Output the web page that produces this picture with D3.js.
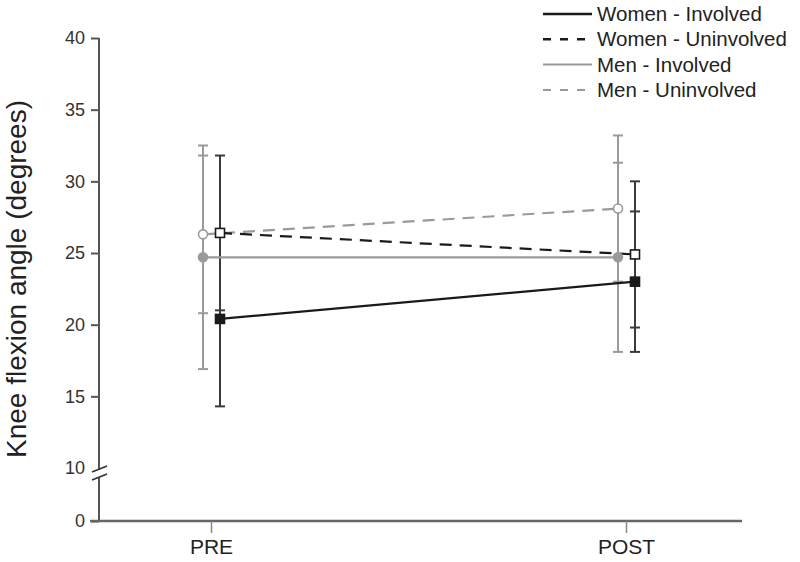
<!DOCTYPE html>
<html>
<head>
<meta charset="utf-8">
<script src="https://cdn.jsdelivr.net/npm/d3@7"></script>
<style>
  body { margin: 0; background: #fff; }
  svg { font-family: "Liberation Sans", Arial, sans-serif; }
</style>
</head>
<body>
<div id="chart"></div>
<script>
// Data
const times = ["PRE", "POST"];
const seriesNames = ["Men - Uninvolved", "Men - Involved", "Women - Uninvolved", "Women - Involved"];
const means = {
  "Women - Involved":   [20.4, 23.0],
  "Women - Uninvolved": [26.4, 24.9],
  "Men - Involved":     [24.7, 24.7],
  "Men - Uninvolved":   [26.3, 28.1]
};
const sds = {
  "Women - Involved":   [6.1, 4.9],
  "Women - Uninvolved": [5.4, 5.1],
  "Men - Involved":     [7.8, 6.6],
  "Men - Uninvolved":   [5.5, 5.1]
};
const yTicks = [0, 10, 15, 20, 25, 30, 35, 40];
const legendOrder = ["Women - Involved", "Women - Uninvolved", "Men - Involved", "Men - Uninvolved"];

// styles per series
const style = {
  "Women - Involved":   { color: "#1a1a1a", bar: "#3a3a3a", dash: null,  shape: "square", filled: true,  off: 9 },
  "Women - Uninvolved": { color: "#1a1a1a", bar: "#3a3a3a", dash: "12,8", shape: "square", filled: false, off: 9 },
  "Men - Involved":     { color: "#9a9a9a", bar: "#9a9a9a", dash: null,  shape: "circle", filled: true,  off: -8 },
  "Men - Uninvolved":   { color: "#9a9a9a", bar: "#9a9a9a", dash: "12,8", shape: "circle", filled: false, off: -8 }
};

const width = 800, height = 562;
const svg = d3.select("#chart").append("svg")
  .attr("width", width).attr("height", height);

// Scales (broken axis 0 -> 10)
const y = d3.scaleLinear().domain([0, 10, 40]).range([521, 468, 38]);
const x = d3.scalePoint().domain(times).range([211, 626]);

// Y axis
const yAxis = svg.append("g").attr("transform", "translate(99,0)")
  .call(d3.axisLeft(y).tickValues(yTicks).tickSize(8).tickPadding(6));
yAxis.select(".domain").remove();
yAxis.selectAll(".tick line").attr("stroke", "#555").attr("stroke-width", 2);
yAxis.selectAll(".tick text").attr("fill", "#333").style("font-size", "18px");
yAxis.selectAll(".tick").filter(d => d === 10).select("line").remove();

// axis line with break
svg.append("line").attr("x1", 99).attr("x2", 99).attr("y1", 38).attr("y2", 470)
  .attr("stroke", "#555").attr("stroke-width", 2);
svg.append("line").attr("x1", 99).attr("x2", 99).attr("y1", 477).attr("y2", 522)
  .attr("stroke", "#555").attr("stroke-width", 2);
[[472, 466], [480, 474]].forEach(([a, b]) => {
  svg.append("line").attr("x1", 92).attr("y1", a).attr("x2", 107).attr("y2", b)
    .attr("stroke", "#333").attr("stroke-width", 1.8);
});

// X axis
svg.append("line").attr("x1", 90).attr("x2", 742).attr("y1", y(0)).attr("y2", y(0))
  .attr("stroke", "#666").attr("stroke-width", 2.5);
const xAxis = svg.append("g").attr("transform", `translate(0,${y(0)})`)
  .call(d3.axisBottom(x).tickSize(12).tickPadding(6));
xAxis.select(".domain").remove();
xAxis.selectAll(".tick line").attr("stroke", "#888").attr("stroke-width", 1.5);
xAxis.selectAll(".tick text").attr("fill", "#222").style("font-size", "21px");

// Y title
svg.append("text")
  .attr("transform", "translate(26,279) rotate(-90)")
  .attr("text-anchor", "middle")
  .attr("fill", "#222")
  .style("font-size", "28px")
  .text("Knee flexion angle (degrees)");

// Error bars
seriesNames.forEach(name => {
  const s = style[name];
  times.forEach((t, i) => {
    const cx = x(t) + s.off;
    const lo = means[name][i] - sds[name][i];
    const hi = means[name][i] + sds[name][i];
    const g = svg.append("g").attr("stroke", s.bar).attr("stroke-width", 2);
    g.append("line").attr("x1", cx).attr("x2", cx).attr("y1", y(lo)).attr("y2", y(hi));
    [lo, hi].forEach(v => {
      g.append("line").attr("x1", cx - 5).attr("x2", cx + 5).attr("y1", y(v)).attr("y2", y(v));
    });
  });
});

// Lines
const line = d3.line().x(d => x(d.t) + d.off).y(d => y(d.v));
seriesNames.forEach(name => {
  const s = style[name];
  const pts = times.map((t, i) => ({ t: t, v: means[name][i], off: s.off }));
  svg.append("path").datum(pts)
    .attr("d", line)
    .attr("fill", "none")
    .attr("stroke", s.color)
    .attr("stroke-width", 2.2)
    .attr("stroke-dasharray", s.dash);
});

// Markers
seriesNames.forEach(name => {
  const s = style[name];
  times.forEach((t, i) => {
    const cx = x(t) + s.off, cy = y(means[name][i]);
    if (s.shape === "square") {
      svg.append("rect").attr("x", cx - 4.5).attr("y", cy - 4.5)
        .attr("width", 9).attr("height", 9)
        .attr("fill", s.filled ? s.color : "#fff")
        .attr("stroke", s.color).attr("stroke-width", 1.6);
    } else {
      svg.append("circle").attr("cx", cx).attr("cy", cy).attr("r", 4.5)
        .attr("fill", s.filled ? s.color : "#fff")
        .attr("stroke", s.color).attr("stroke-width", 1.6);
    }
  });
});

// Legend
const legend = svg.append("g");
legendOrder.forEach((name, i) => {
  const s = style[name];
  const ly = 14 + i * 25.3;
  legend.append("line").attr("x1", 543).attr("x2", 592).attr("y1", ly).attr("y2", ly)
    .attr("stroke", s.color).attr("stroke-width", name.startsWith("Women") ? 2.4 : 2)
    .attr("stroke-dasharray", s.dash ? "8,9" : null);
  legend.append("text").attr("x", 597).attr("y", ly + 7)
    .attr("fill", "#222").style("font-size", "20.5px").text(name);
});
</script>
</body>
</html>
